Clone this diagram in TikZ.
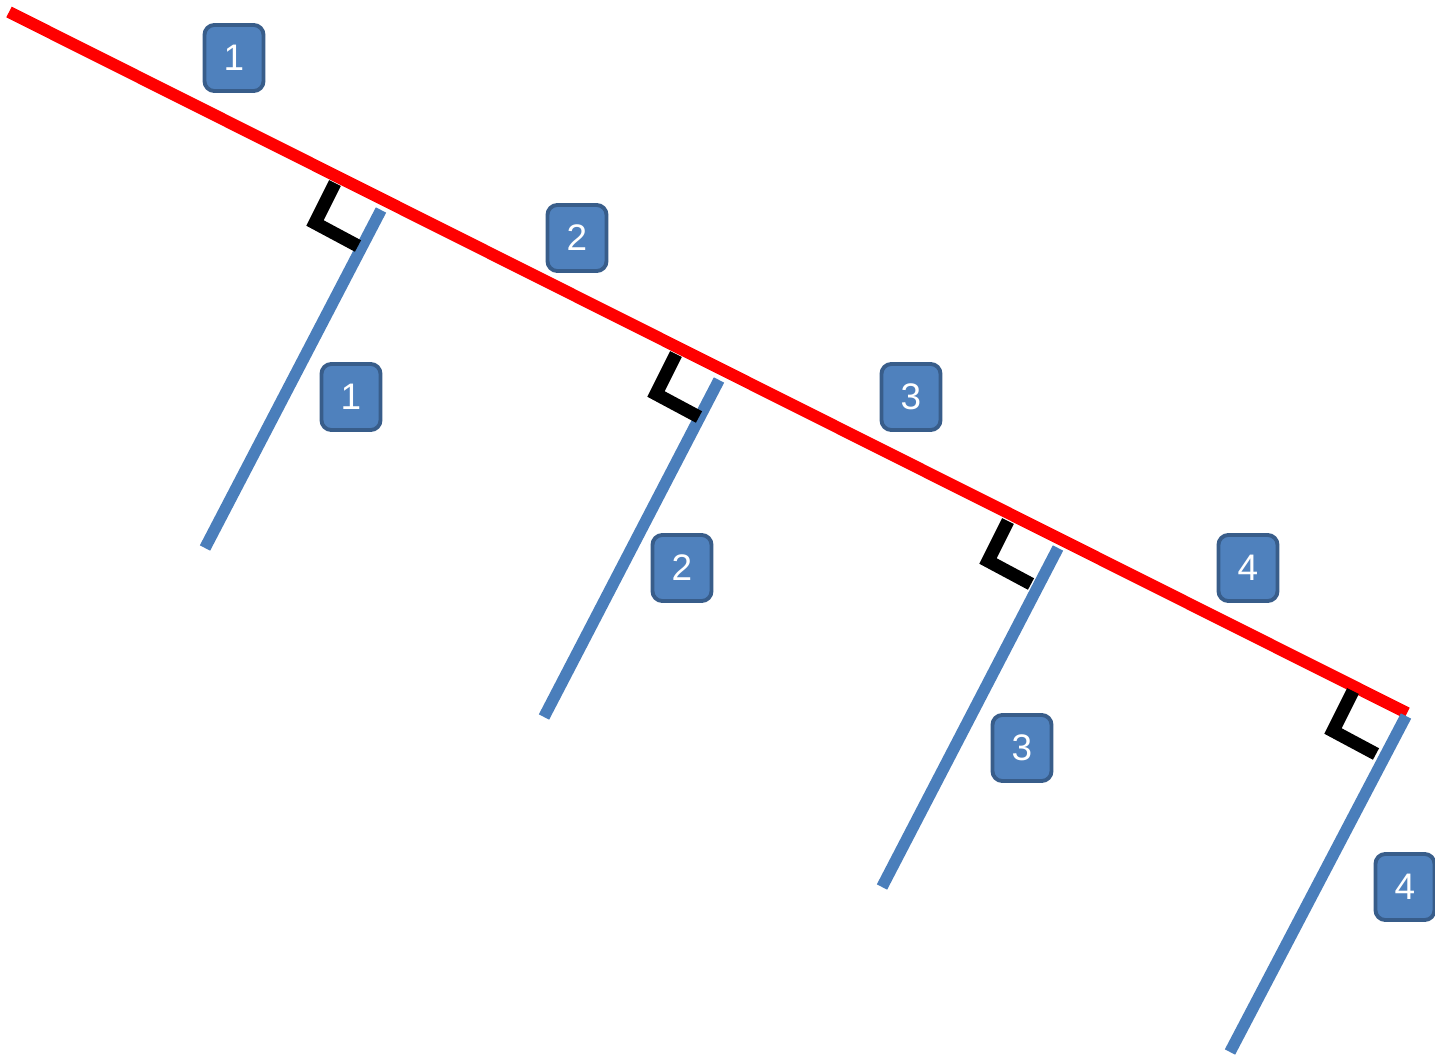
\documentclass[tikz,border=0pt]{standalone}
\usepackage{fontspec}
\setmainfont{Liberation Sans}
\usepackage{tikz}
\usetikzlibrary{calc}
\definecolor{anglered}{HTML}{FF0000}
\definecolor{angleblue}{HTML}{4A7EBB}
\definecolor{tagfill}{HTML}{4F81BD}
\definecolor{tagedge}{HTML}{385D8A}
\tikzstyle{redline} = [line width=3.4pt, anglered]
\tikzstyle{blueline} = [line width=3.3pt, angleblue]
\tikzstyle{rightmark} = [line width=3.7pt, black, miter limit=4]
\tikzstyle{tag} = [draw=tagedge, fill=tagfill, line width=1.1pt, rounded corners=2.8pt, minimum width=0.59cm, minimum height=0.66cm, inner sep=0pt, text=white, font=\fontsize{10.5}{12}\selectfont]

\begin{document}
\begin{tikzpicture}[x=0.01cm, y=-0.01cm]
\useasboundingbox (0,0) rectangle (1435,1057);

\coordinate (redstart) at (9,12);
\coordinate (redend) at (1407,713);
\draw[redline] (redstart) -- (redend);

\foreach \n/\tx/\ty/\bx/\by/\cx/\cy in {1/381/210/205/548/315/223,2/719/380/544/717/656/394,3/1058/548/882/887/988/561,4/1406/716/1230/1052/1333/731}{
  \coordinate (top\n) at (\tx,\ty);
  \coordinate (foot\n) at (\bx,\by);
  \coordinate (corner\n) at (\cx,\cy);
  \draw[blueline] (top\n) -- (foot\n);
  \draw[rightmark] ($(corner\n)+(20,-40)$) -- (corner\n) -- ++(43,23);
}

\foreach \n/\x/\y in {1/234/58,2/577/238,3/911/397,4/1248/568}{
  \node[tag] (seg\n) at (\x,\y) {\n};
}
\foreach \n/\x/\y in {1/351/397,2/682/568,3/1022/748,4/1405/887}{
  \node[tag] (perp\n) at (\x,\y) {\n};
}
\end{tikzpicture}
\end{document}
